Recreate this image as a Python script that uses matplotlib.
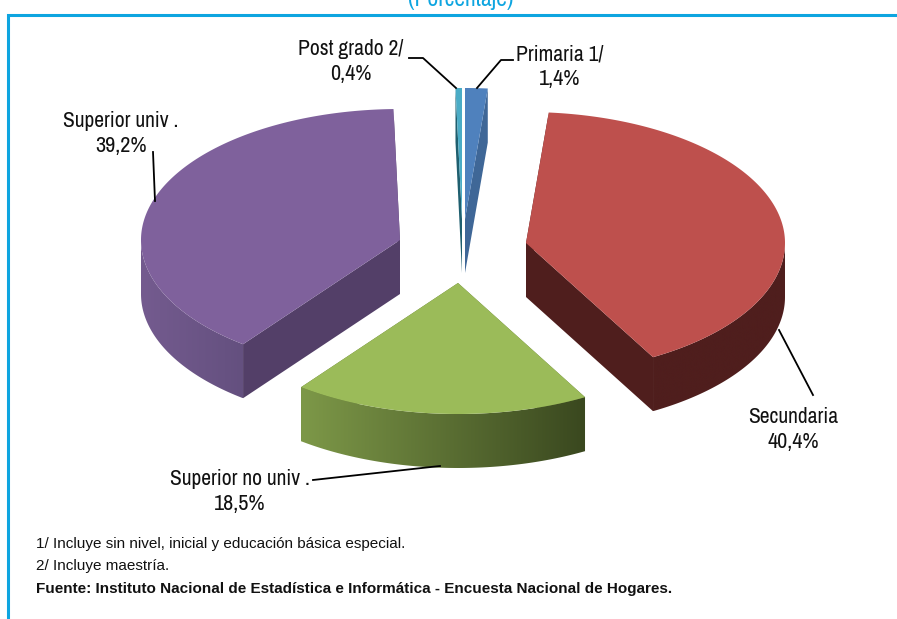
""" Exploded 3D pie: population by education level """
import numpy as np
import matplotlib
matplotlib.use("Agg")
import matplotlib.pyplot as plt
from matplotlib import font_manager as fm
from matplotlib.colors import LinearSegmentedColormap
from matplotlib.patches import Polygon

categories = ["Primaria 1/", "Secundaria", "Superior no univ .", "Superior univ .", "Post grado 2/"]
values = [1.4, 40.4, 18.5, 39.2, 0.4]
value_labels = ["1,4%", "40,4%", "18,5%", "39,2%", "0,4%"]
notes = ["1/ Incluye sin nivel, inicial y educación básica especial.",
         "2/ Incluye maestría."]
source = "Fuente: Instituto Nacional de Estadística e Informática - Encuesta Nacional de Hogares."

# apex of each exploded slice, in pixels
apex_x = [465, 526, 458, 400, 462]
apex_y = [219, 243, 283, 240, 219]
top_colors = ["#4f81bd", "#be504d", "#9bbb59", "#7f619c", "#4bacc6"]
face_colors = ["#3f6797", "#4f1e1d", "#5d7035", "#533f68", "#1f5f6f"]
rim_left = ["#4f81bd", "#4f1e1d", "#7d9848", "#745b8f", "#4bacc6"]
rim_right = ["#3f6797", "#4f1e1d", "#3a481f", "#64507f", "#1f5f6f"]

RX, RY, DEPTH = 259, 131, 54
BLUE = "#0ea5e0"

installed = {f.name for f in fm.fontManager.ttflist}
NARROW = [n for n in ["Liberation Sans Narrow", "Archivo Narrow", "Roboto Condensed", "Liberation Sans"]
          if n in installed][0]
plt.rcParams["font.family"] = [NARROW, "DejaVu Sans"]

fig = plt.figure(figsize=(8.97, 6.19), dpi=100)
ax = fig.add_axes([0, 0, 1, 1])
ax.axis("off")


def rim_xy(cx, cy, theta):
    return cx + RX * np.sin(theta), cy - RY * np.cos(theta)


def draw_slice(i, start, end):
    cx, cy = apex_x[i], apex_y[i]
    # radial faces
    for t in (start, end):
        x, y = rim_xy(cx, cy, t)
        ax.fill([cx, x, x, cx], [cy, y, y + DEPTH, cy + DEPTH],
                color=face_colors[i], lw=0, zorder=i + 1)
    # curved rim, only the near half shows
    lo, hi = max(start, np.pi / 2), min(end, 3 * np.pi / 2)
    if hi > lo:
        edges = np.linspace(lo, hi, 120)
        xs, ys = rim_xy(cx, cy, edges)
        band = Polygon(np.c_[np.r_[xs, xs[::-1]], np.r_[ys, ys[::-1] + DEPTH]],
                       closed=True, transform=ax.transData)
        cmap = LinearSegmentedColormap.from_list("rim", [rim_left[i], rim_right[i]])
        im = ax.imshow(np.linspace(0, 1, 256)[None, :], cmap=cmap, aspect="auto",
                       extent=[xs.min(), xs.max(), ys.max() + DEPTH, ys.min()],
                       zorder=i + 1)
        im.set_clip_path(band)
    # top
    t = np.linspace(start, end, 200)
    x, y = rim_xy(cx, cy, t)
    ax.fill(np.r_[cx, x], np.r_[cy, y], color=top_colors[i], lw=0, zorder=i + 1)


# angles run clockwise from twelve o'clock, first slice starts at 0
bounds = np.r_[0, np.cumsum(values)] / np.sum(values) * 2 * np.pi
for i in [0, 4, 3, 1, 2]:
    draw_slice(i, bounds[i], bounds[i + 1])

ax.set_xlim(0, 897)
ax.set_ylim(619, 0)

# leader lines
lines = [([513, 501, 477], [60, 60, 88]),
         ([779, 813], [330, 395]),
         ([313, 322, 440], [480, 479, 466]),
         ([153, 155], [152, 201]),
         ([409, 423, 456], [58, 58, 88])]
for lx, ly in lines:
    ax.plot(lx, ly, color="black", lw=1.3, zorder=10)

# data labels
label_x = [560, 793, 240, 121, 351]
label_y = [54, 417, 479, 121, 49]
for i in range(len(categories)):
    ax.text(label_x[i], label_y[i], categories[i], ha="center", va="center",
            fontsize=15.5, color="#111111", zorder=11)
    ax.text(label_x[i], label_y[i] + 25, value_labels[i], ha="center", va="center",
            fontsize=16, color="#111111", zorder=11)

# frame and clipped subtitle
ax.plot([897, 7.5, 7.5], [14.5, 14.5, 619], color=BLUE, lw=2.2, solid_joinstyle="miter", zorder=12)
ax.text(461, -1, "(Porcentaje)", ha="center", va="center", fontsize=17, color=BLUE, zorder=12)

# footnotes
ax.text(36, 544, notes[0], va="center", fontsize=11, family="Liberation Sans", color="#111111")
ax.text(36, 566, notes[1], va="center", fontsize=11, family="Liberation Sans", color="#111111")
ax.text(36, 589, source, va="center", fontsize=11, family="Liberation Sans",
        fontweight="bold", color="#111111")

fig.savefig("out.png", dpi=100)
